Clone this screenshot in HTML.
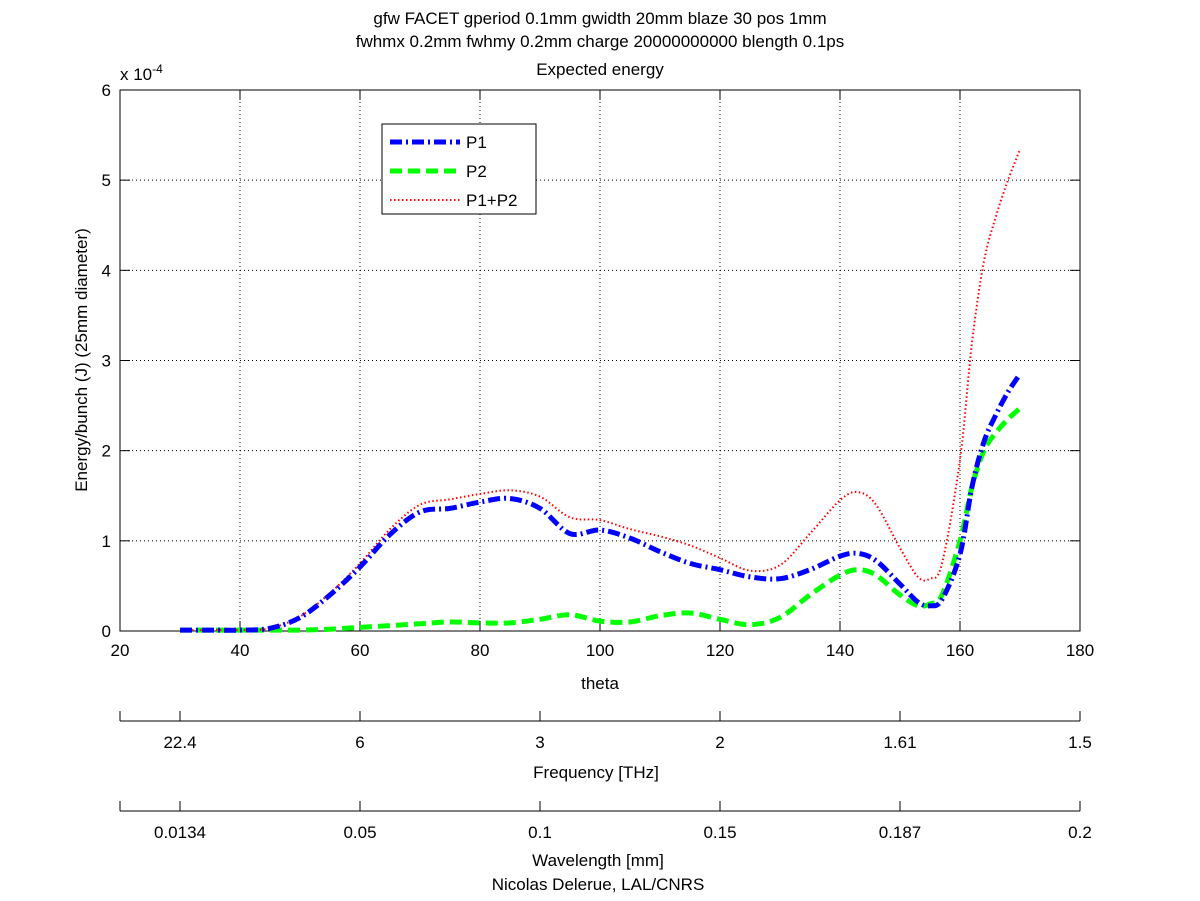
<!DOCTYPE html>
<html><head><meta charset="utf-8"><style>
body{margin:0;background:#fff;}
svg{display:block;font-family:"Liberation Sans",sans-serif;}
</style></head><body>
<svg id="chart" width="1200" height="901" viewBox="0 0 1200 901">
<g font-size="17" fill="#000" text-anchor="middle">
<text x="600" y="24">gfw FACET gperiod 0.1mm gwidth 20mm blaze 30 pos 1mm</text>
<text x="600" y="47">fwhmx 0.2mm fwhmy 0.2mm charge 20000000000 blength 0.1ps</text>
<text x="600" y="75">Expected energy</text>
<text x="120" y="80" text-anchor="start">x 10<tspan font-size="12" dy="-7">-4</tspan></text>
<text x="600" y="689">theta</text>
<text x="596" y="778">Frequency [THz]</text>
<text x="598" y="866">Wavelength [mm]</text>
<text x="598" y="890">Nicolas Delerue, LAL/CNRS</text>
<text transform="translate(87,360) rotate(-90)">Energy/bunch (J) (25mm diameter)</text>
</g>
<g id="grid"></g>
<g id="axes"></g>
<g id="series"></g>
<g id="legend">
<rect x="382" y="124" width="154" height="90" fill="#fff" stroke="#000"/>
<line x1="390" y1="142" x2="460" y2="142" stroke="#0000ff" stroke-width="5" stroke-dasharray="12 4 2 4"/>
<text x="466" y="148" font-size="17">P1</text>
<line x1="390" y1="171" x2="460" y2="171" stroke="#00ff00" stroke-width="5" stroke-dasharray="12 6"/>
<text x="466" y="177" font-size="17">P2</text>
<line x1="390" y1="200" x2="460" y2="200" stroke="#ff0000" stroke-width="2" stroke-dasharray="1.5 2.5"/>
<text x="466" y="206" font-size="17">P1+P2</text>
</g>
</svg>
<script>
const theta=[30,35,40,45,50,55,60,65,70,75,80,85,90,95,100,105,110,115,120,125,130,135,140,143,146,150,153,155,157,160,162,164,166,168,170];
const p1=[0.01,0.01,0.01,0.03,0.15,0.4,0.71,1.07,1.32,1.36,1.43,1.47,1.36,1.08,1.12,1.03,0.88,0.75,0.68,0.6,0.58,0.68,0.83,0.86,0.78,0.52,0.32,0.28,0.35,0.85,1.6,2.1,2.4,2.65,2.85];
const p2=[0.01,0.01,0.01,0.01,0.01,0.02,0.04,0.06,0.08,0.1,0.09,0.09,0.13,0.18,0.11,0.1,0.17,0.2,0.13,0.07,0.15,0.4,0.62,0.68,0.62,0.4,0.28,0.3,0.4,1.0,1.6,2.0,2.2,2.35,2.47];
const psum=[0.01,0.01,0.01,0.03,0.16,0.42,0.75,1.13,1.4,1.46,1.52,1.56,1.49,1.26,1.23,1.13,1.05,0.95,0.81,0.67,0.73,1.08,1.45,1.54,1.4,0.92,0.6,0.58,0.75,1.9,3.2,4.1,4.6,5.0,5.34];
const xTicks=[20,40,60,80,100,120,140,160,180];
const yTicks=[0,1,2,3,4,5,6];
const freqTheta=[30,60,90,120,150,180];
const freqLabels=["22.4","6","3","2","1.61","1.5"];
const waveTheta=[30,60,90,120,150,180];
const waveLabels=["0.0134","0.05","0.1","0.15","0.187","0.2"];
const X=t=>120+(t-20)*6;
const Y=v=>631-v*90.17;
const NS="http://www.w3.org/2000/svg";
function mk(tag,attrs,parent,txt){const e=document.createElementNS(NS,tag);for(const k in attrs)e.setAttribute(k,attrs[k]);if(txt!==undefined)e.textContent=txt;parent.appendChild(e);return e;}
const grid=document.getElementById('grid'),axes=document.getElementById('axes'),ser=document.getElementById('series');
xTicks.forEach(t=>{
 if(t>20&&t<180){const g=mk('line',{x1:X(t),y1:90,x2:X(t),y2:631,stroke:'#000','stroke-width':1,'stroke-dasharray':'1 3'},grid);
 
 }
 const tk=mk('line',{x1:X(t),y1:631,x2:X(t),y2:621,stroke:'#000'},axes);
 
 
 const tk2=mk('line',{x1:X(t),y1:90,x2:X(t),y2:100,stroke:'#000'},axes);
 
 
 const l=mk('text',{x:X(t),y:656,'font-size':17,'text-anchor':'middle'},axes,String(t));
 
 
});
yTicks.forEach(v=>{
 if(v>0&&v<6){const g=mk('line',{x1:120,y1:Y(v),x2:1080,y2:Y(v),stroke:'#000','stroke-width':1,'stroke-dasharray':'1 3'},grid);
 
 }
 const tk=mk('line',{x1:120,y1:Y(v),x2:130,y2:Y(v),stroke:'#000'},axes);
 
 
 const tk2=mk('line',{x1:1080,y1:Y(v),x2:1070,y2:Y(v),stroke:'#000'},axes);
 
 
 const l=mk('text',{x:111,y:Y(v)+6,'font-size':17,'text-anchor':'end'},axes,String(v));
 
 
});
const box=mk('rect',{x:120,y:90,width:960,height:541,fill:'none',stroke:'#000'},axes);


function secAxis(yl,ths,labs,name){
 const ln=mk('line',{x1:120,y1:yl,x2:1080,y2:yl,stroke:'#000'},axes);
 
 
 [20].concat(ths).forEach(t=>{const tk=mk('line',{x1:X(t),y1:yl,x2:X(t),y2:yl-10,stroke:'#000'},axes);
 
 });
 ths.forEach((t,i)=>{const l=mk('text',{x:X(t),y:yl+27,'font-size':17,'text-anchor':'middle'},axes,labs[i]);
 
 });
}
secAxis(721,freqTheta,freqLabels,'frequency');
secAxis(811,waveTheta,waveLabels,'wavelength');
function path(vals){
 const pts=theta.map((t,i)=>[X(t),Y(vals[i])]);
 let d='M'+pts[0][0]+','+pts[0][1];
 for(let i=0;i<pts.length-1;i++){
  const p0=pts[Math.max(0,i-1)],p1=pts[i],p2=pts[i+1],p3=pts[Math.min(pts.length-1,i+2)];
  const c1=[p1[0]+(p2[0]-p0[0])/6,p1[1]+(p2[1]-p0[1])/6],c2=[p2[0]-(p3[0]-p1[0])/6,p2[1]-(p3[1]-p1[1])/6];
  d+=` C${c1[0]},${c1[1]} ${c2[0]},${c2[1]} ${p2[0]},${p2[1]}`;
 }
 return d;
}
const sP2=mk('path',{d:path(p2),fill:'none',stroke:'#00ff00','stroke-width':5,'stroke-dasharray':'12 6'},ser);


const sSum=mk('path',{d:path(psum),fill:'none',stroke:'#ff0000','stroke-width':2,'stroke-dasharray':'1.5 2.5'},ser);


const sP1=mk('path',{d:path(p1),fill:'none',stroke:'#0000ff','stroke-width':5,'stroke-dasharray':'12 4 2 4'},ser);


</script>
</body></html>
